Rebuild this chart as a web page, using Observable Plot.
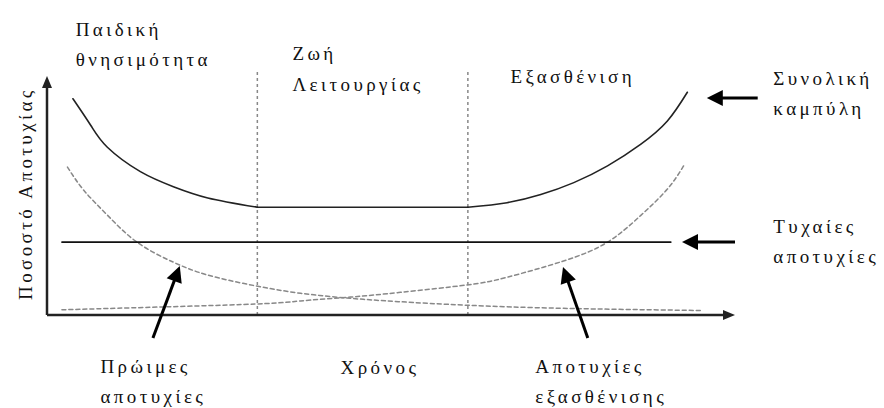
<!DOCTYPE html>
<html>
<head>
<meta charset="utf-8">
<script src="https://cdn.jsdelivr.net/npm/d3@7"></script>
<script src="https://cdn.jsdelivr.net/npm/@observablehq/plot@0.6"></script>
<style>
  html, body { margin: 0; padding: 0; background: #fff; }
  #chart svg text { letter-spacing: 3.4px; font-family: "Liberation Serif", "Times New Roman", serif !important; }
</style>
</head>
<body>
<div id="chart"></div>
<script>
// Abstract units: time t (0..100), failure rate r (0..100)
const totalLeftT = [3.7, 6.3, 8.7, 13.5, 18.3, 23.3, 30.5];
const totalLeftR = [90.7, 79.5, 70.4, 60.2, 53.9, 49.2, 45.3];
const totalFlatT = [30.5, 61.1];
const totalFlatR = [45.3, 45.3];
const totalRightT = [61.1, 66.8, 71.7, 76.5, 81.4, 86.2, 90.1, 93.0];
const totalRightR = [45.3, 47.2, 50.6, 55.6, 62.6, 71.6, 81.4, 93.4];

const randomT = [2.1, 90.6];
const randomR = [30.7, 30.7];

const earlyT = [2.9, 5.3, 8.7, 13.0, 18.3, 23.2, 29.9, 36.8, 44.0, 51.0, 61.0, 75.0, 94.9];
const earlyR = [62.1, 52.3, 42.0, 30.7, 22.3, 17.0, 12.6, 9.3, 7.2, 5.8, 4.3, 3.0, 2.1];

const wearT = [2.1, 12.1, 30.2, 36.8, 44.0, 51.3, 61.0, 66.8, 75.0, 81.4, 86.2, 90.1, 92.5];
const wearR = [2.4, 3.2, 4.8, 6.1, 7.7, 9.7, 12.8, 16.0, 22.8, 30.7, 41.8, 52.9, 62.8];

const phaseBounds = [30.5, 61.1];
const phaseTop = 102;

const labelText = ["Παιδική\nθνησιμότητα", "Ζωή\nΛειτουργίας", "Εξασθένιση", "Συνολική\nκαμπύλη",
                   "Τυχαίες\nαποτυχίες", "Πρώιμες\nαποτυχίες", "Χρόνος", "Αποτυχίες\nεξασθένισης"];
const labelT = [4.1, 35.6, 67.3, 105.5, 105.5, 7.7, 42.6, 70.9];
const labelR = [104.2, 94.1, 97.1, 83.7, 21.8, -36.8, -24.3, -36.8];

const yLabel = "Ποσοστό Αποτυχίας";
const yLabelT = -2.3, yLabelR = 51;

// arrows: [t1, r1, t2, r2] (tail -> tip)
const axisArrows = [[0, 0, 0, 100], [0, 0, 100, 0]];
const noteArrows = [[103.3, 90.8, 95.9, 90.8], [100, 30.5, 92.3, 30.5],
                    [15.4, -9.6, 19.3, 20.5], [78.6, -9.6, 75.0, 20.1]];

const toRows = (T, R, s) => T.map((t, i) => ({t, r: R[i], s}));
const totalRows = [...toRows(totalLeftT, totalLeftR, "a"), ...toRows(totalFlatT, totalFlatR, "b"), ...toRows(totalRightT, totalRightR, "c")];
const labels = labelText.map((text, i) => ({text, t: labelT[i], r: labelR[i]}));
const bounds = phaseBounds.map(t => ({t}));

function arrows(list, color, width, headLen, headHalf) {
  return (index, scales) => {
    const g = d3.create("svg:g");
    for (const [t1, r1, t2, r2] of list) {
      const x1 = scales.x(t1), y1 = scales.y(r1), x2 = scales.x(t2), y2 = scales.y(r2);
      const a = Math.atan2(y2 - y1, x2 - x1);
      const bx = x2 - headLen * Math.cos(a), by = y2 - headLen * Math.sin(a);
      const px = -Math.sin(a) * headHalf, py = Math.cos(a) * headHalf;
      g.append("line").attr("x1", x1).attr("y1", y1)
        .attr("x2", x2 - (headLen - 2) * Math.cos(a)).attr("y2", y2 - (headLen - 2) * Math.sin(a))
        .attr("stroke", color).attr("stroke-width", width);
      g.append("path").attr("d", `M${x2},${y2}L${bx + px},${by + py}L${bx - px},${by - py}Z`).attr("fill", color);
    }
    return g.node();
  };
}

const font = "Liberation Serif";

const chart = Plot.plot({
  width: 884,
  height: 408,
  marginLeft: 47,
  marginRight: 149,
  marginTop: 76,
  marginBottom: 93,
  x: {domain: [0, 100], axis: null},
  y: {domain: [0, 100], axis: null},
  style: {background: "#fff", fontFamily: font},
  marks: [
    Plot.ruleX(bounds, {x: "t", y1: 0, y2: phaseTop, stroke: "#888", strokeWidth: 1.5, strokeDasharray: "3,3"}),
    Plot.line(toRows(earlyT, earlyR, "e"), {x: "t", y: "r", curve: "natural", stroke: "#888", strokeWidth: 1.5, strokeDasharray: "4,3"}),
    Plot.line(toRows(wearT, wearR, "w"), {x: "t", y: "r", curve: "natural", stroke: "#888", strokeWidth: 1.5, strokeDasharray: "4,3"}),
    Plot.line(toRows(randomT, randomR, "rnd"), {x: "t", y: "r", stroke: "#111", strokeWidth: 1.6}),
    Plot.line(totalRows, {x: "t", y: "r", z: "s", curve: "natural", stroke: "#222", strokeWidth: 1.6}),
    arrows(axisArrows, "#222", 2.5, 12, 5),
    arrows(noteArrows, "#000", 3, 16, 8),
    Plot.text(labels, {x: "t", y: "r", text: "text", textAnchor: "start", lineAnchor: "bottom", lineHeight: 1.62,
      fontSize: 19, fontFamily: font, fill: "#111"}),
    Plot.text([yLabel], {x: () => yLabelT, y: () => yLabelR, text: d => d, rotate: -90, textAnchor: "middle",
      lineAnchor: "bottom", fontSize: 19, fontFamily: font, fill: "#111"})
  ]
});
document.getElementById("chart").appendChild(chart);
</script>
</body>
</html>
